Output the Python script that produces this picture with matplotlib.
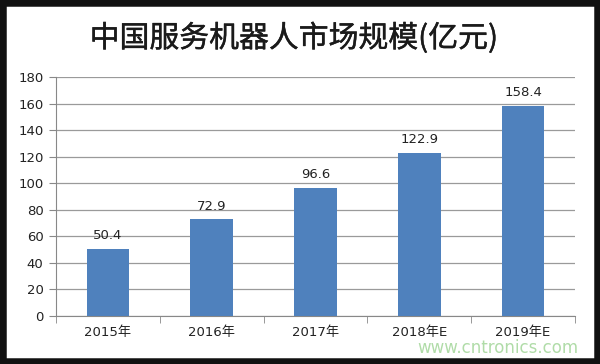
import numpy as np
import matplotlib
matplotlib.use('Agg')
import matplotlib.pyplot as plt
import matplotlib.patheffects as pe
from matplotlib.patches import Rectangle

plt.rcParams['font.family'] = ['DejaVu Sans', 'Noto Sans CJK SC']

years = ['2015年', '2016年', '2017年', '2018年E', '2019年E']
values = [50.4, 72.9, 96.6, 122.9, 158.4]
yticks = [0, 20, 40, 60, 80, 100, 120, 140, 160, 180]

fig = plt.figure(figsize=(6, 3.64), dpi=100)
fig.patch.set_facecolor('white')

# black frame around the picture
fig.patches.append(Rectangle((0, 0), 1, 1, transform=fig.transFigure,
                             fill=False, ec='#111111', lw=9, zorder=10))

ax = fig.add_axes([0.0933, 0.1319, 0.865, 0.6566])
x = np.arange(len(years))
ax.bar(x, values, width=0.41, color='#4F81BD', zorder=3)
for xi, v in zip(x, values):
    ax.text(xi, v + 5, f'{v:.1f}', ha='center', va='bottom',
            fontsize=9.5, color='#222222')

ax.set_xlim(-0.5, len(years) - 0.5)
ax.set_ylim(0, 180)
ax.set_yticks(yticks)
ax.set_yticklabels([str(t) for t in yticks], fontsize=9.5, color='#222222')
ax.set_xticks(x)
ax.set_xticklabels(years, fontsize=9.5, color='#222222')
ax.set_xticks(np.arange(-0.5, len(years)), minor=True)
ax.tick_params(axis='x', which='major', length=0, pad=7)
ax.tick_params(axis='x', which='minor', length=5, color='#888888', direction='out')
ax.tick_params(axis='y', length=5, color='#888888', pad=4)
ax.grid(axis='y', color='#9a9a9a', lw=0.9, zorder=0)
for s in ['top', 'right']:
    ax.spines[s].set_visible(False)
ax.spines['left'].set_color('#888888')
ax.spines['bottom'].set_color('#888888')

fig.text(0.49, 0.895, '中国服务机器人市场规模(亿元)', ha='center', va='center',
         fontsize=21.5, color='#1a1a1a',
         family=['Noto Sans CJK SC', 'DejaVu Sans'],
         path_effects=[pe.withStroke(linewidth=0.3, foreground='#1a1a1a')])
fig.text(0.83, 0.045, 'www.cntronics.com', ha='center', va='center',
         fontsize=12, color='#b0dca8')

fig.savefig('out.png', dpi=100)
